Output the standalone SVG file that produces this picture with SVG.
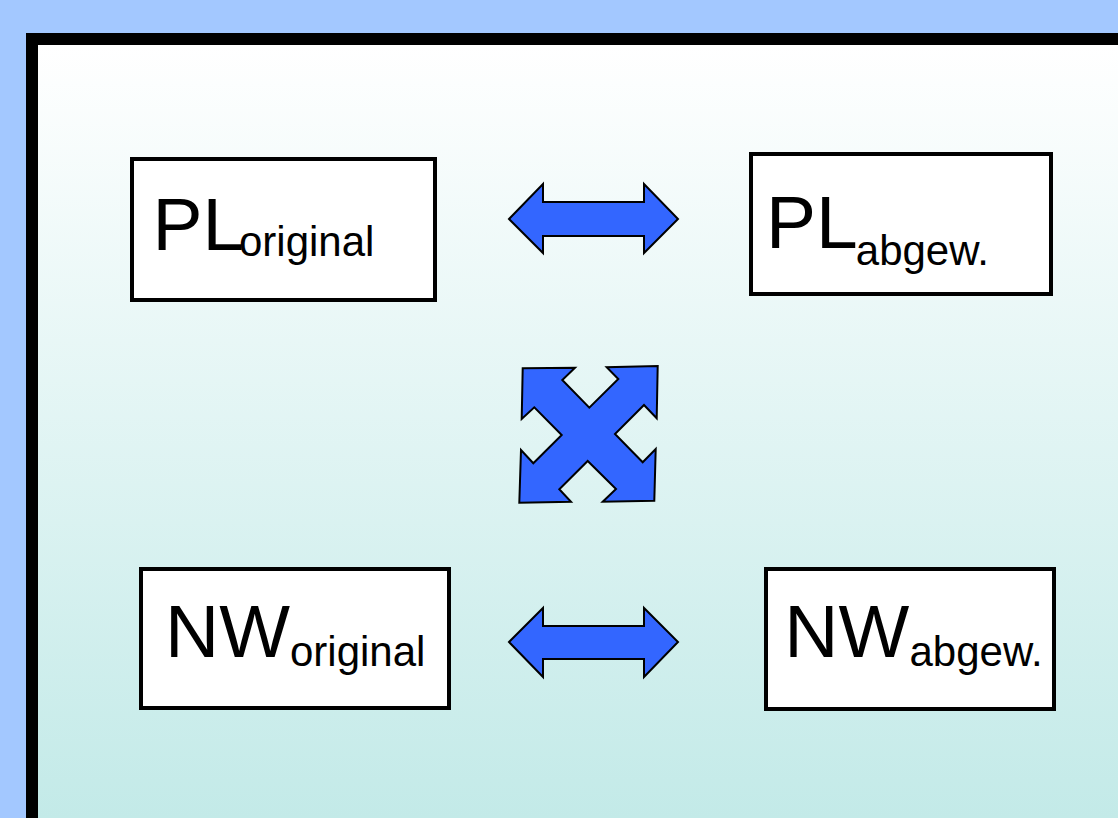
<svg xmlns="http://www.w3.org/2000/svg" width="1118" height="818" viewBox="0 0 1118 818">
<defs>
<linearGradient id="bg" gradientUnits="userSpaceOnUse" x1="0" y1="45" x2="0" y2="818">
<stop offset="0" stop-color="#ffffff"/>
<stop offset="1" stop-color="#c3eae8"/>
</linearGradient>
<style>
.box{fill:#ffffff;stroke:#000000;stroke-width:4}
.arr{fill:#3366ff;stroke:#000000;stroke-width:2;stroke-linejoin:miter}
.big{font-family:"Liberation Sans",Arial,sans-serif;font-size:75px;fill:#000}
.sub{font-family:"Liberation Sans",Arial,sans-serif;font-size:42px;fill:#000}
</style>
</defs>
<rect x="0" y="0" width="1118" height="818" fill="#a3c8ff"/>
<rect x="32" y="39" width="1200" height="1000" fill="url(#bg)" stroke="#000" stroke-width="12"/>
<g id="connectors">
<polygon class="arr" points="509,219 543,184 543,202 644,202 644,184 678,219 644,253 644,236 543,236 543,253"/>
<polygon class="arr" points="509,642 543,608 543,626 644,626 644,608 678,642 644,677 644,659 543,659 543,677"/>
<polygon class="arr" points="522.7,368.3 575,367.7 562.3,380 589.3,407.7 618.3,379 606.7,367.3 657.7,366 656.7,418.3 644,405 615,434 642.7,462.3 655.7,449 654.3,500.7 602.7,501.7 616,489 587.7,461 559.3,489.3 571,501.7 519.3,502.7 521,450 533.3,463.3 561.7,435 534.3,407.3 521.7,419"/>
</g>
<g id="pl-original">
<rect class="box" x="132" y="159" width="303" height="141"/>
<text class="big" x="152.5" y="250">PL</text>
<text class="sub" x="239" y="256">original</text>
</g>
<g id="pl-abgew">
<rect class="box" x="751" y="154" width="300" height="140"/>
<text class="big" x="766" y="248">PL</text>
<text class="sub" x="855.8" y="265">abgew.</text>
</g>
<g id="nw-original">
<rect class="box" x="141" y="569" width="308" height="139"/>
<text class="big" x="165" y="657">NW</text>
<text class="sub" x="290" y="666">original</text>
</g>
<g id="nw-abgew">
<rect class="box" x="766" y="569" width="288" height="140"/>
<text class="big" x="784.3" y="657">NW</text>
<text class="sub" x="909.5" y="666">abgew.</text>
</g>
</svg>
